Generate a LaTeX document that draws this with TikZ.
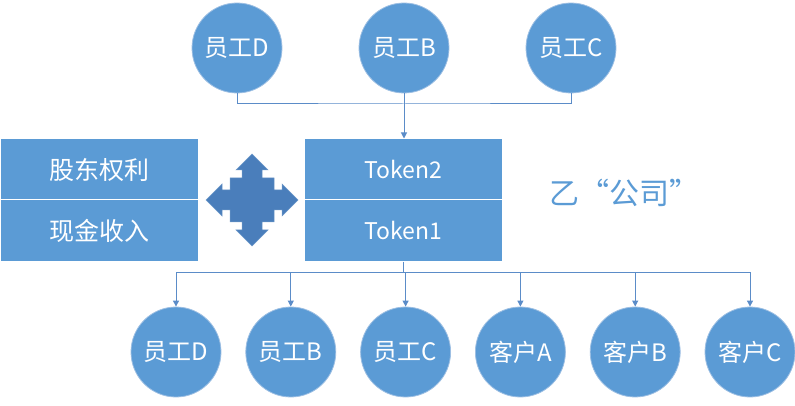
\documentclass[tikz,border=0pt]{standalone}
\usepackage{fontspec}
\setmainfont{Noto Sans CJK SC}
\usetikzlibrary{arrows.meta, positioning}
\definecolor{tokblue}{HTML}{5B9BD5}
\definecolor{tokdark}{HTML}{4A7EBB}
\definecolor{tokline}{HTML}{5B8CC8}
\definecolor{tokrim}{HTML}{9DBFE3}
\tikzset{
  >={Triangle[length=6pt, width=6pt]},
  person/.style={circle, fill=tokblue, draw=tokrim, line width=0.8pt,
                 minimum size=90pt, inner sep=0pt, text=white,
                 font=\fontsize{24}{24}\selectfont},
  cell/.style={rectangle, fill=tokblue, draw=white, line width=1pt,
               minimum width=198pt, minimum height=61pt, inner sep=0pt,
               text=white, font=\fontsize{25}{25}\selectfont},
  tokcell/.style={cell, font=\fontsize{23}{23}\selectfont},
  wire/.style={draw=tokline, line width=1pt},
  link/.style={wire, ->},
  title/.style={text=tokblue, font=\fontsize{30}{30}\selectfont},
}

\begin{document}
\begin{tikzpicture}[x=1pt, y=-1pt, node distance=24pt]
  \useasboundingbox (0,0) rectangle (795,406);
  % holders on top
  \node[person] (td) at (237,48) {员工D};
  \node[person] (tb) at (404,48) {员工B};
  \node[person] (tc) at (571,48) {员工C};
  % the two stacked boxes
  \node[cell] (rights) at (99,169.5) {股东权利};
  \node[cell] (cash) at (99,230.5) {现金收入};
  \node[tokcell] (token2) at (403.5,169.5) {Token2};
  \node[tokcell] (token1) at (403.5,230.5) {Token1};
  \node[title] (company) at (624,193) {乙“公司”};
  % four-way arrow between them
  \fill[tokdark, draw=tokdark!80!white, line width=0.5pt, shift={(252,200)}]
    (0,-46) -- (16,-30) -- (10,-30) -- (10,-22) -- (22,-22) -- (22,-10)
    -- (30,-10) -- (30,-16) -- (46,0) -- (30,16) -- (30,10) -- (22,10)
    -- (22,22) -- (10,22) -- (10,30) -- (16,30) -- (0,46) -- (-16,30)
    -- (-10,30) -- (-10,22) -- (-22,22) -- (-22,10) -- (-30,10) -- (-30,16)
    -- (-46,0) -- (-30,-16) -- (-30,-10) -- (-22,-10) -- (-22,-22)
    -- (-10,-22) -- (-10,-30) -- (-16,-30) -- cycle;
  % holders at the bottom
  \node[person] (bd) at (176,352) {员工D};
  \node[person, right=of bd] (bb) {员工B};
  \node[person, right=of bb] (bc) {员工C};
  \node[person, right=of bc] (ka) {客户A};
  \node[person, right=of ka] (kb) {客户B};
  \node[person, right=of kb] (kc) {客户C};
  % connectors
  \coordinate (topbus) at (404,104);
  \coordinate (botbus) at (403.5,272);
  \draw[wire] (td.south) |- (topbus) -| (tc.south);
  \draw[link] (tb.south) -- (tb.south |- token2.north);
  \draw[wire] (token1.south) -- (botbus);
  \draw[link] (botbus) -| (bd.north);
  \draw[link] (botbus) -| (bb.north);
  \draw[link] (botbus) -| (bc.north);
  \draw[link] (botbus) -| (ka.north);
  \draw[link] (botbus) -| (kb.north);
  \draw[link] (botbus) -| (kc.north);
\end{tikzpicture}
\end{document}
